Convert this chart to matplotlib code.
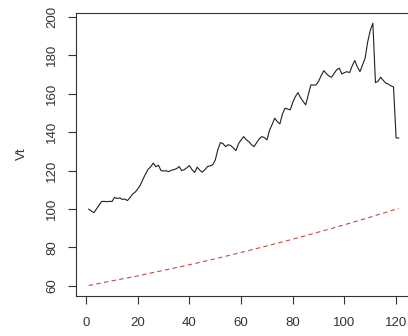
import matplotlib
matplotlib.use("Agg")
import matplotlib.pyplot as plt

plt.rcParams["font.family"] = ["Liberation Sans", "DejaVu Sans"]

# Observed series Vt, one value per period 1..121
t_obs = list(range(1, 122))
vt_obs = [
    99.9, 99.0, 98.1, 100.0, 102.0, 103.9, 104.0, 103.8, 104.0, 103.9,
    106.0, 105.5, 105.8, 105.0, 105.2, 104.4, 106.0, 107.8, 108.8, 110.5,
    112.5, 115.5, 118.2, 120.7, 122.0, 123.9, 122.0, 122.8, 120.0, 119.8,
    119.9, 119.5, 120.2, 120.5, 121.0, 122.1, 120.0, 120.5, 121.5, 122.6,
    120.5, 119.0, 121.8, 120.2, 119.2, 120.5, 122.1, 122.5, 123.0, 125.5,
    131.0, 134.6, 134.0, 132.5, 133.5, 133.0, 131.8, 130.4, 134.0, 136.0,
    137.7, 136.0, 135.1, 133.5, 132.5, 134.5, 136.5, 137.7, 137.2, 136.0,
    141.0, 144.0, 147.3, 145.5, 144.3, 149.5, 152.5, 152.0, 151.6, 155.5,
    158.5, 160.6, 158.0, 156.0, 154.2, 159.5, 164.6, 164.5, 164.6, 166.5,
    169.5, 172.0, 170.5, 169.2, 168.6, 170.5, 172.5, 173.3, 170.3, 171.0,
    171.5, 171.0, 174.5, 177.3, 174.0, 171.5, 175.0, 178.5, 187.0, 193.0,
    196.7, 165.8, 166.5, 168.6, 167.0, 165.5, 165.0, 164.1, 163.5, 137.0,
    137.0,
]

# Reference trend (dashed red)
t_trend = [1, 10, 20, 30, 40, 50, 60, 70, 80, 90, 100, 110, 121]
vt_trend = [60.2, 62.6, 65.2, 68.1, 71.0, 74.1, 77.4, 80.8, 84.3, 88.0, 91.8, 95.8, 100.3]

x_ticks = [0, 20, 40, 60, 80, 100, 120]
y_ticks = [60, 80, 100, 120, 140, 160, 180, 200]

ink = "#333333"

fig = plt.figure(figsize=(4.08, 3.36), dpi=100)
ax = fig.add_axes([0.187, 0.12, 0.8206, 0.8423])

ax.plot(t_obs, vt_obs, color="#202020", lw=0.8)
ax.plot(t_trend, vt_trend, color="#c94848", lw=0.8, ls=(0, (4, 3)))

ax.set_xlim(-3.8, 125.8)
ax.set_ylim(54.9, 202.2)
ax.set_xticks(x_ticks)
ax.set_yticks(y_ticks)
ax.set_yticklabels([str(v) for v in y_ticks], rotation=90, va="center")

ax.tick_params(axis="both", direction="out", length=6, width=0.8,
               color=ink, labelsize=9.5, labelcolor=ink)
ax.tick_params(axis="x", pad=9)
ax.tick_params(axis="y", pad=7)

for s in ax.spines.values():
    s.set_color(ink)
    s.set_linewidth(0.8)

ax.set_ylabel("Vt", fontsize=9.5, color=ink, labelpad=13)

fig.savefig("out.png", dpi=100)
